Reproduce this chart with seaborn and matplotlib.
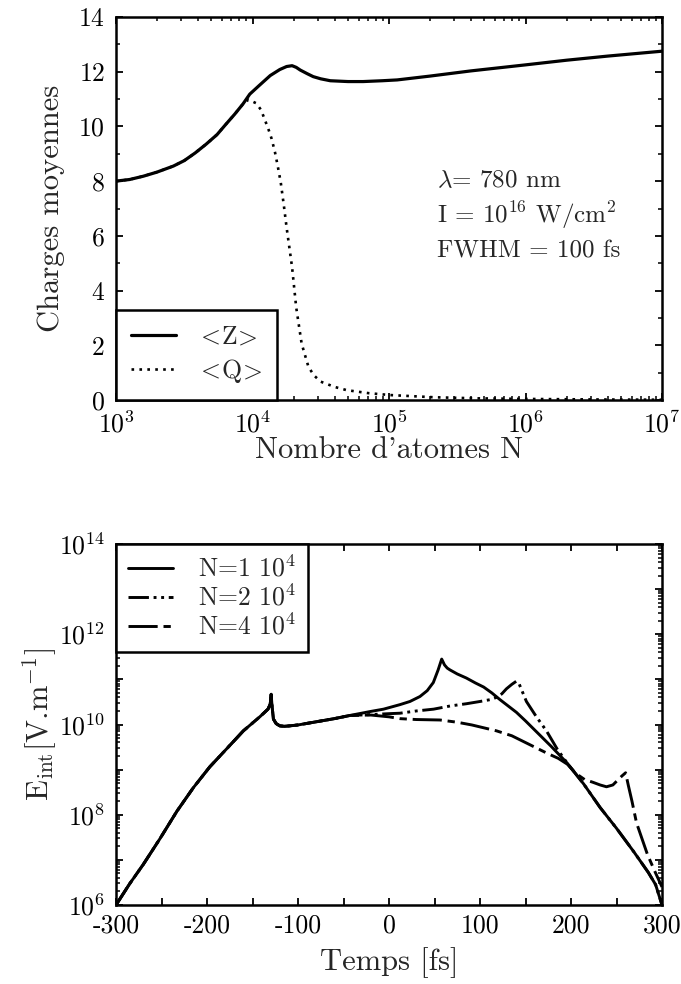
import numpy as np
import pandas as pd
import matplotlib
matplotlib.use("Agg")
import matplotlib.pyplot as plt
import matplotlib.ticker as mticker
import seaborn as sns

# ---------------------------------------------------------------------------
# Charges moyennes <Z> et <Q> en fonction du nombre d'atomes (log10 N)
# ---------------------------------------------------------------------------
log_n_z = [3.00, 3.10, 3.20, 3.30, 3.42, 3.50, 3.58, 3.66, 3.74, 3.80, 3.87,
           3.93, 3.98, 4.05, 4.13, 4.20, 4.25, 4.29, 4.32, 4.35, 4.40, 4.445,
           4.50, 4.57, 4.70, 4.81, 4.95, 5.06, 5.30, 5.60, 6.00, 6.30, 6.60,
           7.00]
charge_z = [8.00, 8.06, 8.18, 8.33, 8.55, 8.75, 9.03, 9.35, 9.70, 10.05, 10.45,
            10.82, 11.18, 11.50, 11.86, 12.08, 12.19, 12.22, 12.16, 12.06, 11.93,
            11.82, 11.74, 11.67, 11.64, 11.64, 11.67, 11.70, 11.84, 12.03, 12.25,
            12.42, 12.57, 12.75]

log_n_q = [3.00, 3.10, 3.20, 3.30, 3.42, 3.50, 3.58, 3.66, 3.74, 3.80, 3.87,
           3.92, 3.97, 4.026, 4.062, 4.09, 4.12, 4.14, 4.165, 4.185, 4.207,
           4.23, 4.25, 4.29, 4.32, 4.36, 4.41, 4.45, 4.50, 4.60, 4.69, 4.85,
           5.01, 5.33, 5.65, 5.97, 6.50, 7.00]
charge_q = [8.00, 8.06, 8.18, 8.33, 8.55, 8.75, 9.03, 9.35, 9.70, 10.05, 10.45,
            10.76, 10.98, 10.85, 10.61, 10.25, 9.85, 9.55, 9.05, 8.55, 7.95,
            7.10, 6.30, 4.85, 3.39, 2.06, 1.21, 0.90, 0.67, 0.48, 0.36, 0.25,
            0.18, 0.10, 0.06, 0.04, 0.02, 0.01]

# ---------------------------------------------------------------------------
# Champ interne E_int(t) (log10 en V/m) pour trois tailles d'agregat
# ---------------------------------------------------------------------------
# montee commune aux trois tailles
temps_debut = [-300, -285, -270, -252, -233, -215, -197, -178, -160, -142,
               -133, -130.5, -129.5, -128.5, -127, -124, -120, -115, -109,
               -100, -80, -60, -43]
log_e_debut = [6.00, 6.47, 6.90, 7.46, 8.08, 8.60, 9.06, 9.47, 9.86, 10.17,
               10.34, 10.45, 10.67, 10.40, 10.12, 10.02, 9.97, 9.96, 9.97,
               9.99, 10.06, 10.13, 10.20]

# N = 1 10^4
temps_n1 = [-20, -6, 12, 23, 34, 42, 48.7, 54, 57.9, 61, 64, 67, 75, 85, 95,
            104, 113, 122, 131, 140, 150, 160, 178, 196]
log_e_n1 = [10.29, 10.34, 10.44, 10.51, 10.62, 10.75, 10.93, 11.21, 11.45,
            11.32, 11.25, 11.21, 11.12, 11.03, 10.92, 10.83, 10.70, 10.55,
            10.41, 10.27, 10.08, 9.88, 9.52, 9.14]

# descente commune a N = 1 10^4 et N = 2 10^4
temps_fin = [214, 232, 250, 269, 285, 293, 300]
log_e_fin = [8.68, 8.16, 7.70, 7.18, 6.72, 6.45, 6.00]

# N = 2 10^4
temps_n2 = [-20, 0, 12, 30, 49, 67, 85, 100, 111, 118, 124, 129, 135, 140,
            143, 151, 162, 173, 185, 196]
log_e_n2 = [10.22, 10.24, 10.25, 10.30, 10.34, 10.41, 10.46, 10.51, 10.55,
            10.60, 10.68, 10.79, 10.89, 10.96, 10.90, 10.51, 10.17, 9.86,
            9.45, 9.14]

# N = 4 10^4
temps_n4 = [-20, 0, 12, 30, 56, 75, 91, 118, 135, 149, 162, 174, 186, 196,
            205, 215, 224, 232, 239, 246, 251, 256, 260, 263, 267, 272, 284,
            292, 300]
log_e_n4 = [10.21, 10.17, 10.13, 10.11, 10.10, 10.05, 9.99, 9.86, 9.75, 9.61,
            9.48, 9.36, 9.25, 9.12, 8.92, 8.78, 8.72, 8.66, 8.62, 8.66, 8.76,
            8.86, 8.93, 8.65, 8.30, 7.82, 7.12, 6.75, 6.40]

legendes_haut = [r"$\!<\!$Z$\!>\!$", r"$\!<\!$Q$\!>\!$"]
legendes_bas = [r"N=1 $10^4$", r"N=2 $10^4$", r"N=4 $10^4$"]

# ---------------------------------------------------------------------------
sns.set_style("ticks")
plt.rcParams.update({
    "font.family": ["cmr10"],
    "mathtext.fontset": "cm",
    "axes.formatter.use_mathtext": True,
    "axes.unicode_minus": False,
    "axes.linewidth": 1.8,
    "axes.edgecolor": "black",
    "xtick.direction": "in",
    "ytick.direction": "in",
    "xtick.top": True,
    "ytick.right": True,
    "xtick.major.size": 5,
    "ytick.major.size": 5,
    "xtick.minor.size": 3,
    "ytick.minor.size": 3,
    "xtick.major.width": 1.3,
    "ytick.major.width": 1.3,
    "xtick.minor.width": 1.1,
    "ytick.minor.width": 1.1,
    "ytick.major.pad": 8,
    "xtick.color": "black",
    "ytick.color": "black",
})

fig = plt.figure(figsize=(6.81, 9.84), dpi=100)
W, H = 681, 984
ax1 = fig.add_axes([116 / W, 1 - 400 / H, 546 / W, 383 / H])
ax2 = fig.add_axes([116 / W, 1 - 905 / H, 546 / W, 361 / H])

TICK_FS = 18.5
LABEL_FS = 22
LEG_FS = 18.5

# ---------------- graphe du haut : charges moyennes ----------------
df_z = pd.DataFrame({"N": 10 ** np.array(log_n_z), "charge": charge_z})
df_q = pd.DataFrame({"N": 10 ** np.array(log_n_q), "charge": charge_q})

sns.lineplot(data=df_z, x="N", y="charge", ax=ax1, color="black", lw=2.3,
             estimator=None, sort=False, label=legendes_haut[0])
sns.lineplot(data=df_q, x="N", y="charge", ax=ax1, color="black", lw=1.9,
             linestyle=(0, (1, 2)), estimator=None, sort=False,
             label=legendes_haut[1])

ax1.set_xscale("log")
ax1.set_xlim(1e3, 1e7)
ax1.set_ylim(0, 14)
ax1.xaxis.set_major_locator(mticker.FixedLocator(10.0 ** np.arange(3, 8)))
ax1.xaxis.set_minor_locator(mticker.LogLocator(base=10, subs=np.arange(2, 10), numticks=50))
ax1.xaxis.set_minor_formatter(mticker.NullFormatter())
ax1.yaxis.set_major_locator(mticker.MultipleLocator(2))
ax1.yaxis.set_minor_locator(mticker.MultipleLocator(1))
ax1.tick_params(which="both", labelsize=TICK_FS)
ax1.tick_params(axis="x", which="major", pad=8)
ax1.set_xlabel("Nombre d'atomes N", fontsize=LABEL_FS)
ax1.set_ylabel("Charges moyennes", fontsize=LABEL_FS)
ax1.yaxis.set_label_coords(-0.093, 0.5)
ax1.xaxis.set_label_coords(0.5, -0.095)

leg1 = ax1.legend(loc="lower left", bbox_to_anchor=(0, 0), borderaxespad=0,
                  fancybox=False, framealpha=1, edgecolor="black",
                  fontsize=LEG_FS, handlelength=1.75, handletextpad=0.9,
                  borderpad=0.6, labelspacing=0.3)
leg1.get_frame().set_linewidth(1.8)

ax1.text(0.588, 0.556, r"$\lambda$= 780 nm", transform=ax1.transAxes,
         fontsize=18, va="baseline", ha="left")
ax1.text(0.588, 0.462, r"I = $10^{16}$ W/cm$^2$", transform=ax1.transAxes,
         fontsize=18, va="baseline", ha="left")
ax1.text(0.588, 0.371, "FWHM = 100 fs", transform=ax1.transAxes,
         fontsize=18, va="baseline", ha="left")

# ---------------- graphe du bas : champ interne ----------------
series = [
    (legendes_bas[0], temps_debut + temps_n1 + temps_fin,
     log_e_debut + log_e_n1 + log_e_fin, "-"),
    (legendes_bas[1], temps_debut + temps_n2 + temps_fin,
     log_e_debut + log_e_n2 + log_e_fin, (0, (7, 1.6, 1, 1.6, 1, 1.6))),
    (legendes_bas[2], temps_debut + temps_n4,
     log_e_debut + log_e_n4, (0, (10, 2, 2.5, 2))),
]
for nom, t, loge, style in series:
    df = pd.DataFrame({"temps": t, "champ": 10 ** np.array(loge)})
    sns.lineplot(data=df, x="temps", y="champ", ax=ax2, color="black",
                 lw=2.1, linestyle=style, estimator=None, sort=False,
                 label=nom)

ax2.set_yscale("log")
ax2.set_xlim(-300, 300)
ax2.set_ylim(1e6, 1e14)
ax2.xaxis.set_major_locator(mticker.MultipleLocator(100))
ax2.xaxis.set_minor_locator(mticker.MultipleLocator(50))
ax2.xaxis.set_major_formatter(mticker.FuncFormatter(lambda v, p: f"{v:.0f}"))
ax2.yaxis.set_major_locator(mticker.FixedLocator(10.0 ** np.arange(6, 15)))
ax2.yaxis.set_minor_locator(mticker.LogLocator(base=10, subs=np.arange(2, 10), numticks=100))
ax2.yaxis.set_minor_formatter(mticker.NullFormatter())
ax2.yaxis.set_major_formatter(mticker.FuncFormatter(
    lambda v, p: (r"$10^{%d}$" % round(np.log10(v))) if round(np.log10(v)) % 2 == 0 else ""))
ax2.tick_params(which="both", labelsize=TICK_FS)
ax2.tick_params(axis="x", which="both", length=5, width=1.3, pad=6)
ax2.set_xlabel("Temps [fs]", fontsize=LABEL_FS)
ax2.set_ylabel(r"E$_{\mathrm{int}}$[V.m$^{-1}$]", fontsize=LABEL_FS)
ax2.yaxis.set_label_coords(-0.105, 0.5)
ax2.xaxis.set_label_coords(0.5, -0.118)

leg2 = ax2.legend(loc="upper left", bbox_to_anchor=(0, 1), borderaxespad=0,
                  fancybox=False, framealpha=1, edgecolor="black",
                  fontsize=LEG_FS, handlelength=1.75, handletextpad=1.0,
                  borderpad=0.45, labelspacing=0.1)
leg2.get_frame().set_linewidth(1.8)

fig.savefig("out.png", dpi=100)
